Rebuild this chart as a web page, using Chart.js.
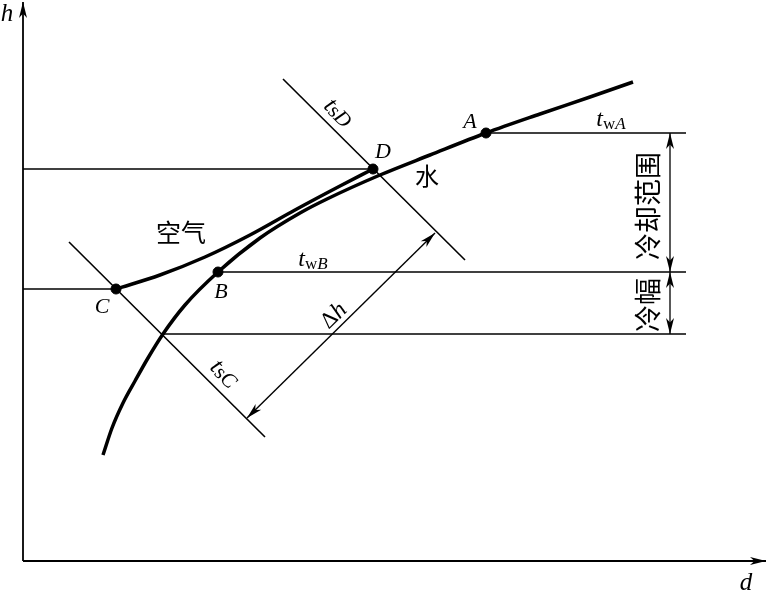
<!DOCTYPE html>
<html>
<head>
<meta charset="utf-8">
<script src="https://cdn.jsdelivr.net/npm/chart.js@4"></script>
<style>
  html, body { margin: 0; padding: 0; background: #fff; }
  canvas { display: block; }
</style>
</head>
<body>
<canvas id="hd" width="768" height="593"></canvas>
<script>
// h-d schematic: d to the right, h upwards (arbitrary units, origin at the axes corner)
// water curve
const waterD = [80, 89, 100, 112, 125, 140, 162, 195, 237, 277, 304, 357, 407, 463, 517, 567, 610];
const waterH = [106, 133, 158, 180, 203, 227, 256, 289, 323, 348, 362, 386, 406, 428, 447, 464, 479];
// air curve C -> D
const airD = [93, 137, 182, 227, 272, 317, 350];
const airH = [272, 286, 304, 326, 351, 375, 392];
// state points
const stateNames = ["A", "B", "C", "D"];
const stateD = [463, 195, 93, 350];
const stateH = [428, 289, 272, 392];
// wet-bulb lines
const tsDD = [260, 442];
const tsDH = [482, 301];
const tsCD = [46, 242];
const tsCH = [319, 124];
// horizontal guides (from, to, level)
const guideFromD = [0, 0, 463, 195, 140];
const guideToD = [350, 93, 663, 663, 663];
const guideH = [392, 272, 428, 289, 227];
// dimension arrows
const rangeD = 647;
const rangeH = [428, 289, 227];
const deltaD = [224, 412];
const deltaH = [143, 328];
// axes ends
const axisEndD = 743;
const axisEndH = 559;

const pts = (xs, ys) => xs.map((x, i) => ({ x: x, y: ys[i] }));

const serif = '"Liberation Serif", "Times New Roman", serif';
const cjk = '"Noto Sans CJK SC", sans-serif';

function line(data, width, extra) {
  return Object.assign({
    data: data,
    showLine: true,
    borderColor: "#000",
    borderWidth: width,
    pointRadius: 0,
    pointHoverRadius: 0,
    fill: false,
    clip: false,
  }, extra || {});
}

const datasets = [];
// state points on top
datasets.push({
  data: pts(stateD, stateH),
  pointRadius: 5,
  pointBackgroundColor: "#000",
  pointBorderColor: "#000",
  showLine: false,
  clip: false,
});
datasets.push(line(pts(waterD, waterH), 3.5, { cubicInterpolationMode: "monotone" }));
datasets.push(line(pts(airD, airH), 3.5, { cubicInterpolationMode: "monotone" }));
datasets.push(line(pts(tsDD, tsDH), 1.6));
datasets.push(line(pts(tsCD, tsCH), 1.6));
guideH.forEach((h, i) => {
  datasets.push(line([{ x: guideFromD[i], y: h }, { x: guideToD[i], y: h }], 1.5));
});
// cooling range / approach dimension arrows
datasets.push(line([{ x: rangeD, y: rangeH[0] }, { x: rangeD, y: rangeH[1] }], 1.3, { arrows: "both" }));
datasets.push(line([{ x: rangeD, y: rangeH[1] }, { x: rangeD, y: rangeH[2] }], 1.3, { arrows: "both" }));
// delta h arrow
datasets.push(line(pts(deltaD, deltaH), 1.4, { arrows: "both" }));
// axes
datasets.push(line([{ x: 0, y: 0 }, { x: 0, y: axisEndH }], 1.8, { arrows: "end" }));
datasets.push(line([{ x: 0, y: 0 }, { x: axisEndD, y: 0 }], 1.8, { arrows: "end" }));

function arrowHead(ctx, tip, from, len, half) {
  const a = Math.atan2(tip.y - from.y, tip.x - from.x);
  ctx.save();
  ctx.translate(tip.x, tip.y);
  ctx.rotate(a);
  ctx.beginPath();
  ctx.moveTo(0, 0);
  ctx.lineTo(-len, -half);
  ctx.lineTo(-len * 0.72, 0);
  ctx.lineTo(-len, half);
  ctx.closePath();
  ctx.fill();
  ctx.restore();
}

const arrowPlugin = {
  id: "arrows",
  afterDatasetsDraw(chart) {
    const ctx = chart.ctx;
    ctx.save();
    ctx.fillStyle = "#000";
    chart.data.datasets.forEach((ds, i) => {
      if (!ds.arrows) return;
      const el = chart.getDatasetMeta(i).data;
      const n = el.length;
      arrowHead(ctx, el[n - 1], el[n - 2], 16, 4);
      if (ds.arrows === "both") arrowHead(ctx, el[0], el[1], 16, 4);
    });
    ctx.restore();
  },
};

// text labels: [d, h, rotation in degrees, parts: [text, font, dy]]
const it = (s) => "italic " + s + "px " + serif;
const rm = (s) => s + "px " + serif;
const textMarks = [
  [-16, 547, 0, [["h", it(25), 0]]],
  [723, -22, 0, [["d", it(25), 0]]],
  [447, 439, 0, [["A", it(22), 0]]],
  [360, 409, 0, [["D", it(22), 0]]],
  [198, 269, 0, [["B", it(22), 0]]],
  [79, 254, 0, [["C", it(22), 0]]],
  [404, 385, 0, [["水", "24px " + cjk, 0]]],
  [158, 329, 0, [["空气", "25px " + cjk, 0]]],
  [315, 448, 45, [["t", it(25), 0], ["s", rm(21), 2], ["D", it(21), 2]]],
  [201, 187, 45, [["t", it(25), 0], ["s", rm(21), 2], ["C", it(21), 2]]],
  [311, 245, -45, [["Δ", rm(23), 0], ["h", it(24), 0]]],
  [588, 441, 0, [["t", it(24), 0], ["w", rm(17), 5], ["A", it(17), 5]]],
  [290, 301, 0, [["t", it(24), 0], ["w", rm(17), 5], ["B", it(17), 5]]],
  [625, 355, -90, [["冷却范围", "27px " + cjk, 0]]],
  [625, 256, -90, [["冷幅", "27px " + cjk, 0]]],
];

const textPlugin = {
  id: "texts",
  afterDraw(chart) {
    const ctx = chart.ctx;
    const xs = chart.scales.x, ys = chart.scales.y;
    ctx.save();
    ctx.fillStyle = "#000";
    ctx.textBaseline = "middle";
    ctx.textAlign = "left";
    textMarks.forEach(([d, h, rot, parts]) => {
      let w = 0;
      parts.forEach(([t, f]) => { ctx.font = f; w += ctx.measureText(t).width; });
      ctx.save();
      ctx.translate(xs.getPixelForValue(d), ys.getPixelForValue(h));
      ctx.rotate(rot * Math.PI / 180);
      let x = -w / 2;
      parts.forEach(([t, f, dy]) => {
        ctx.font = f;
        ctx.fillText(t, x, dy);
        x += ctx.measureText(t).width;
      });
      ctx.restore();
    });
    ctx.restore();
  },
};

new Chart(document.getElementById("hd"), {
  type: "scatter",
  data: { datasets: datasets },
  options: {
    responsive: false,
    animation: false,
    devicePixelRatio: 1,
    layout: { padding: 0, autoPadding: false },
    plugins: { legend: { display: false }, tooltip: { enabled: false } },
    scales: {
      x: { type: "linear", min: -23, max: 745, display: false },
      y: { type: "linear", min: -32, max: 561, display: false },
    },
  },
  plugins: [arrowPlugin, textPlugin],
});
</script>
</body>
</html>
